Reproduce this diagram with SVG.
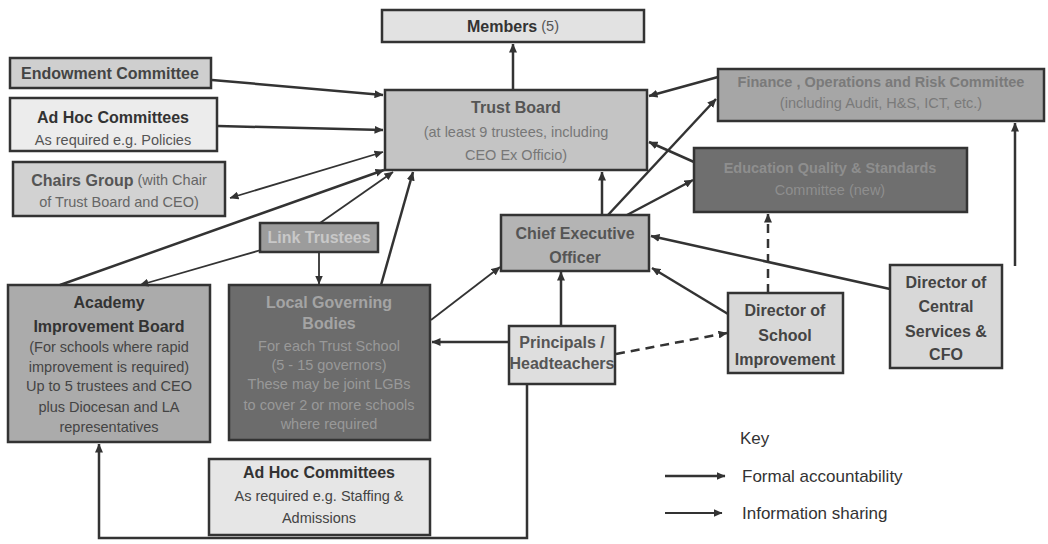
<svg xmlns="http://www.w3.org/2000/svg" width="1048" height="544" viewBox="0 0 1048 544">
<style>
.box{stroke:#333;stroke-width:2.5}
text{font-family:"Liberation Sans",Arial,sans-serif;text-anchor:middle;dominant-baseline:central}
.t{font-size:16px;font-weight:bold}
.s{font-size:14.5px}
.k{font-size:17px;text-anchor:start;fill:#333}
.c{fill:none;stroke:#333;stroke-width:2.5}
.i{fill:none;stroke:#333;stroke-width:1.8}
.d{fill:none;stroke:#333;stroke-width:2.5;stroke-dasharray:9 6}
</style>
<defs>
<marker id="a" markerUnits="userSpaceOnUse" markerWidth="9" markerHeight="8" refX="8.5" refY="4" orient="auto-start-reverse">
<path d="M0,0 L9,4 L0,8 z" fill="#333"/>
</marker>
</defs>

<g id="members"><rect class="box" x="382" y="10" width="262" height="32" fill="#e2e2e2"/>
<text y="26" x="513"><tspan class="t" fill="#333">Members</tspan><tspan class="s" fill="#555"> (5)</tspan></text></g>

<g id="endowment"><rect class="box" x="10" y="58" width="201" height="30" fill="#cfcfcf"/>
<text class="t" x="110" y="73" fill="#444">Endowment Committee</text></g>

<g id="adhoc-top"><rect class="box" x="10" y="98" width="207" height="53" fill="#ececec"/>
<text class="t" x="113" y="117" fill="#333">Ad Hoc Committees</text>
<text class="s" x="113" y="140" fill="#555">As required e.g. Policies</text></g>

<g id="chairs"><rect class="box" x="13" y="162" width="212" height="54" fill="#d2d2d2"/>
<text x="119" y="180"><tspan class="t" fill="#555">Chairs Group</tspan><tspan class="s" fill="#666"> (with Chair</tspan></text>
<text class="s" x="119" y="202" fill="#666">of Trust Board and CEO)</text></g>

<g id="trust-board"><rect class="box" x="385" y="90" width="262" height="80" fill="#c4c4c4"/>
<text class="t" x="516" y="107" fill="#555">Trust Board</text>
<text class="s" x="516" y="132" fill="#777">(at least 9 trustees, including</text>
<text class="s" x="516" y="155" fill="#777">CEO Ex Officio)</text></g>

<g id="finance"><rect class="box" x="718" y="69" width="326" height="52" fill="#a6a6a6"/>
<text class="s" x="881" y="82" fill="#7a7a7a" font-weight="bold">Finance , Operations and Risk Committee</text>
<text class="s" x="881" y="103" fill="#7a7a7a">(including Audit, H&amp;S, ICT, etc.)</text></g>

<g id="education"><rect class="box" x="694" y="148" width="273" height="64" fill="#6f6f6f"/>
<text class="s" x="830" y="168" fill="#8e8e8e" font-weight="bold">Education Quality &amp; Standards</text>
<text class="s" x="830" y="190" fill="#8e8e8e">Committee (new)</text></g>

<g id="link-trustees"><rect class="box" x="260" y="223" width="118" height="29" fill="#9c9c9c"/>
<text class="t" x="319" y="237" fill="#c8c8c8" font-size="15px">Link Trustees</text></g>

<g id="aib"><rect class="box" x="8" y="285" width="202" height="157" fill="#ababab"/>
<text class="t" x="109" y="302" fill="#333">Academy</text>
<text class="t" x="109" y="326" fill="#333">Improvement Board</text>
<text class="s" x="109" y="347" fill="#444">(For schools where rapid</text>
<text class="s" x="109" y="367" fill="#444">improvement is required)</text>
<text class="s" x="109" y="386" fill="#444">Up to 5 trustees and CEO</text>
<text class="s" x="109" y="407" fill="#444">plus Diocesan and LA</text>
<text class="s" x="109" y="427" fill="#444">representatives</text></g>

<g id="lgb"><rect class="box" x="229" y="285" width="201" height="155" fill="#6c6c6c"/>
<text class="t" x="329" y="302" fill="#a4a4a4">Local Governing</text>
<text class="t" x="329" y="323" fill="#a4a4a4">Bodies</text>
<text class="s" x="329" y="346" fill="#999">For each Trust School</text>
<text class="s" x="329" y="365" fill="#999">(5 - 15 governors)</text>
<text class="s" x="329" y="384" fill="#999">These may be joint LGBs</text>
<text class="s" x="329" y="405" fill="#999">to cover 2 or more schools</text>
<text class="s" x="329" y="424" fill="#999">where required</text></g>

<g id="adhoc-bottom"><rect class="box" x="209" y="459" width="221" height="76" fill="#e6e6e6"/>
<text class="t" x="319" y="472" fill="#333">Ad Hoc Committees</text>
<text class="s" x="319" y="496" fill="#444">As required e.g. Staffing &amp;</text>
<text class="s" x="319" y="518" fill="#444">Admissions</text></g>

<g id="ceo"><rect class="box" x="501" y="215" width="148" height="56" fill="#b4b4b4"/>
<text class="t" x="575" y="233" fill="#555">Chief Executive</text>
<text class="t" x="575" y="257" fill="#555">Officer</text></g>

<g id="principals"><rect class="box" x="509" y="326" width="106" height="58" fill="#dedede"/>
<text class="t" x="562" y="342" fill="#555" font-size="14px">Principals /</text>
<text class="t" x="562" y="363" fill="#555" font-size="14px">Headteachers</text></g>

<g id="dsi"><rect class="box" x="728" y="293" width="115" height="80" fill="#d8d8d8"/>
<text class="t" x="785" y="310" fill="#444">Director of</text>
<text class="t" x="785" y="335" fill="#444">School</text>
<text class="t" x="785" y="359" fill="#444">Improvement</text></g>

<g id="dcs"><rect class="box" x="890" y="265" width="112" height="103" fill="#d8d8d8"/>
<text class="t" x="946" y="282" fill="#444">Director of</text>
<text class="t" x="946" y="306" fill="#444">Central</text>
<text class="t" x="946" y="331" fill="#444">Services &amp;</text>
<text class="t" x="946" y="354" fill="#444">CFO</text></g>

<g id="connectors">
<path class="c" d="M513,90 L513,44" marker-end="url(#a)"/>
<path class="c" d="M212,80 L383,95" marker-end="url(#a)"/>
<path class="c" d="M218,126 L383,130" marker-end="url(#a)"/>
<path class="i" d="M230,198 L383,152" marker-start="url(#a)" marker-end="url(#a)"/>
<path class="c" d="M60,285 L384,170" marker-end="url(#a)"/>
<path class="i" d="M320,223 L393,172" marker-end="url(#a)"/>
<path class="c" d="M381,285 L413,172" marker-end="url(#a)"/>
<path class="i" d="M261,250 L140,285" marker-end="url(#a)"/>
<path class="i" d="M319,253 L319,284" marker-end="url(#a)"/>
<path class="i" d="M431,320 L500,267" marker-end="url(#a)"/>
<path class="c" d="M509,342 L432,342" marker-end="url(#a)"/>
<path class="c" d="M561,326 L561,272" marker-end="url(#a)"/>
<path class="d" d="M616,354 L727,333" marker-end="url(#a)"/>
<path class="c" d="M728,314 L652,268" marker-end="url(#a)"/>
<path class="d" d="M768,293 L768,214" marker-end="url(#a)"/>
<path class="c" d="M890,289 L651,236" marker-end="url(#a)"/>
<path class="c" d="M1015,266 L1015,123" marker-end="url(#a)"/>
<path class="c" d="M602,215 L602,172" marker-end="url(#a)"/>
<path class="c" d="M608,215 L716,99" marker-end="url(#a)"/>
<path class="c" d="M627,215 L693,180" marker-end="url(#a)"/>
<path class="c" d="M694,162 L649,142" marker-end="url(#a)"/>
<path class="c" d="M718,77 L649,96" marker-end="url(#a)"/>
<path class="c" d="M527,384 L527,538 L99,538 L99,444" marker-end="url(#a)"/>
</g>

<g id="key">
<text class="k" x="740" y="438">Key</text>
<path class="c" d="M665,476 L725,476" marker-end="url(#a)"/>
<text class="k" x="742" y="476">Formal accountability</text>
<path class="i" d="M665,513 L722,513" marker-end="url(#a)"/>
<text class="k" x="742" y="513">Information sharing</text>
</g>
</svg>
